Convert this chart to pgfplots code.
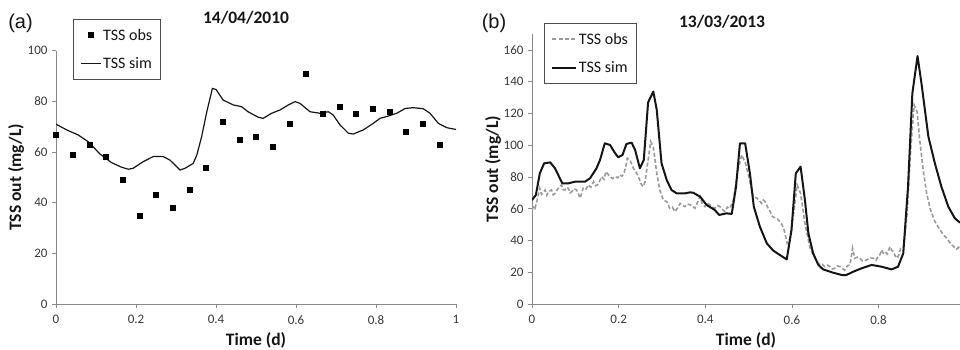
\documentclass[border=0pt]{standalone}
\usepackage{pgfplots}
\pgfplotsset{compat=1.18}
\usepackage{fontspec}
\setmainfont{Carlito}
\newfontfamily\arialfont{Liberation Sans}
\definecolor{axgray}{HTML}{8A8A8A}
\definecolor{ticktxt}{HTML}{383838}
\definecolor{obsgray}{HTML}{9A9A9A}
\definecolor{simblack}{HTML}{151515}
\newcommand{\tickfont}{\fontsize{13}{15}\selectfont}

\pgfplotsset{
  tssaxis/.style={
    scale only axis,
    anchor=south west,
    axis x line*=bottom,
    axis y line*=left,
    axis line style={-, draw=axgray, line width=0.9pt},
    tick align=outside,
    major tick length=4pt,
    tick style={draw=axgray, line width=0.8pt},
    xticklabel={\tickfont\pgfmathprintnumber[assume math mode=true,fixed]{\tick}},
    yticklabel={\tickfont\pgfmathprintnumber[assume math mode=true,fixed]{\tick}},
    tick label style={text=ticktxt},
    xticklabel style={yshift=-4pt},
    yticklabel style={xshift=-1pt},
    xlabel={Time (d)},
    ylabel={TSS out (mg/L)},
    label style={font=\bfseries\fontsize{17.5}{20}\selectfont, text=simblack},
    xlabel style={at={(rel axis cs:0.5,0)}, anchor=center, yshift=-36pt},
    title style={font=\bfseries\fontsize{17.5}{21}\selectfont, text=simblack, anchor=center},
    legend cell align=left,
    legend style={draw=black!70, line width=0.8pt, fill=white,
      inner xsep=7pt, inner ysep=8pt, row sep=13pt,
      nodes={inner sep=1.5pt, font=\fontsize{16}{18}\selectfont, text=simblack}},
  }
}

\pgfplotstableread{
x y
0.0000 67
0.0417 59
0.0833 63
0.1250 58
0.1667 49
0.2083 35
0.2500 43
0.2917 38
0.3333 45
0.3750 54
0.4167 72
0.4583 65
0.5000 66
0.5417 62
0.5833 71
0.6250 91
0.6667 75
0.7083 78
0.7500 75
0.7917 77
0.8333 76
0.8750 68
0.9167 71
0.9583 63
}\obsA

\pgfplotstableread{
x y
0.000 71.0
0.027 68.7
0.056 66.7
0.081 64.0
0.110 59.2
0.139 55.8
0.164 54.0
0.181 53.2
0.193 53.6
0.218 56.2
0.243 58.2
0.268 58.2
0.285 56.8
0.310 52.9
0.323 53.6
0.343 55.5
0.352 58.8
0.364 66.0
0.377 75.9
0.391 85.1
0.400 84.7
0.418 80.5
0.443 78.6
0.464 77.9
0.480 75.9
0.506 73.7
0.518 73.3
0.539 75.3
0.560 76.6
0.581 78.6
0.598 79.9
0.610 79.2
0.635 75.9
0.660 75.3
0.681 75.9
0.693 74.6
0.710 70.7
0.731 67.4
0.743 67.1
0.768 68.7
0.793 71.3
0.810 73.3
0.831 74.2
0.852 75.3
0.873 77.2
0.893 77.5
0.918 77.1
0.935 75.3
0.956 71.3
0.977 69.6
1.000 68.9
}\simA

\pgfplotstableread{
x y
0.000 59.2
0.004 61.5
0.007 60.3
0.012 65.5
0.018 72.9
0.022 69.0
0.025 69.7
0.030 71.8
0.034 68.5
0.038 70.8
0.045 71.8
0.049 68.8
0.053 69.7
0.057 71.5
0.061 72.9
0.068 75.0
0.072 72.0
0.076 71.8
0.080 73.5
0.084 72.9
0.088 70.0
0.092 70.8
0.097 72.5
0.103 71.8
0.107 69.5
0.111 66.6
0.118 72.9
0.124 72.0
0.130 75.0
0.136 73.5
0.142 77.0
0.147 74.5
0.151 75.0
0.156 77.5
0.161 80.2
0.166 78.5
0.171 83.4
0.176 81.5
0.180 80.2
0.186 79.0
0.192 80.2
0.198 79.5
0.203 81.3
0.208 80.5
0.212 82.3
0.216 86.0
0.220 91.8
0.226 90.7
0.234 85.5
0.242 82.3
0.248 78.5
0.253 75.0
0.257 74.0
0.261 77.0
0.268 90.7
0.274 102.3
0.280 99.1
0.288 82.3
0.295 71.8
0.303 65.5
0.311 64.5
0.318 60.3
0.324 61.0
0.330 58.2
0.336 60.5
0.342 63.4
0.348 62.0
0.353 61.3
0.359 63.0
0.365 62.4
0.371 61.5
0.376 60.3
0.382 64.0
0.388 67.6
0.393 63.0
0.399 61.3
0.405 63.5
0.411 62.4
0.417 61.0
0.422 60.3
0.428 62.0
0.434 61.3
0.440 59.5
0.445 58.2
0.451 61.0
0.457 60.3
0.465 65.5
0.474 82.3
0.484 93.9
0.493 88.6
0.502 78.1
0.511 67.6
0.520 66.6
0.525 65.0
0.530 63.4
0.534 65.5
0.538 64.5
0.545 60.3
0.550 58.0
0.555 55.0
0.560 54.5
0.565 54.0
0.572 51.9
0.578 49.5
0.582 46.6
0.589 38.2
0.595 40.3
0.605 59.2
0.612 75.0
0.620 69.7
0.630 50.8
0.642 35.1
0.653 28.8
0.659 26.0
0.665 24.6
0.670 25.0
0.676 23.5
0.682 24.5
0.688 23.5
0.693 22.0
0.699 22.5
0.705 24.0
0.711 23.5
0.716 22.5
0.722 21.4
0.728 24.0
0.734 24.6
0.740 35.1
0.745 28.8
0.751 29.5
0.757 28.8
0.763 27.0
0.772 27.7
0.780 29.0
0.788 28.8
0.794 27.5
0.799 29.8
0.803 31.0
0.807 34.0
0.811 32.0
0.815 33.0
0.820 31.5
0.826 36.1
0.830 34.0
0.834 33.0
0.838 30.5
0.843 28.8
0.847 31.0
0.851 35.1
0.858 36.1
0.866 57.1
0.874 97.0
0.882 125.4
0.889 121.2
0.895 103.3
0.903 84.4
0.911 69.7
0.920 59.2
0.930 51.9
0.942 46.6
0.950 43.5
0.957 41.5
0.965 38.5
0.972 36.5
0.980 34.5
0.988 36.5
}\obsB

\pgfplotstableread{
x y
0.000 65.5
0.009 68.7
0.018 82.3
0.028 88.6
0.042 89.2
0.053 85.5
0.070 76.0
0.084 76.0
0.099 77.0
0.122 77.0
0.134 79.2
0.149 85.5
0.157 90.7
0.168 101.2
0.180 100.2
0.192 94.9
0.199 92.4
0.209 93.9
0.218 100.8
0.230 101.6
0.238 97.0
0.249 85.5
0.258 90.7
0.268 127.0
0.280 133.8
0.288 122.2
0.299 88.6
0.311 78.1
0.322 71.8
0.334 69.7
0.353 69.7
0.365 70.3
0.372 70.1
0.388 67.6
0.403 62.4
0.422 59.2
0.432 56.1
0.449 57.1
0.461 56.7
0.471 73.9
0.480 101.2
0.492 101.2
0.503 82.3
0.512 61.3
0.526 48.7
0.542 38.2
0.557 33.6
0.572 30.9
0.588 28.1
0.599 46.6
0.609 82.3
0.620 86.5
0.630 65.5
0.638 44.5
0.649 31.9
0.661 24.6
0.672 21.8
0.695 19.7
0.718 18.1
0.726 18.3
0.742 20.4
0.761 22.5
0.784 24.6
0.807 23.5
0.830 21.8
0.845 23.5
0.857 31.9
0.868 73.9
0.878 132.7
0.890 156.2
0.899 139.0
0.915 105.4
0.930 88.6
0.945 73.9
0.961 61.3
0.976 54.0
0.988 51.2
}\simB

\begin{document}
\begin{tikzpicture}
\path[use as bounding box] (0,0) rectangle (960pt,350pt);

% Panel (a)
\begin{axis}[tssaxis,
  at={(56pt,46pt)}, width=400pt, height=253.3pt,
  xmin=0, xmax=1, ymin=0, ymax=100,
  xtick={0,0.2,0.4,0.6,0.8,1},
  ytick={0,20,40,60,80,100},
  ylabel style={at={(rel axis cs:0,0.5)}, anchor=center, yshift=40pt},
  title={14/04/2010},
  title style={at={(rel axis cs:0.475,1.108)}},
  legend image code/.code={\draw[mark repeat=2,mark phase=2,#1] plot coordinates {(0pt,0pt) (10pt,0pt) (20pt,0pt)};},
  legend style={at={(rel axis cs:0.0425,1.125)}, anchor=north west},
]
\addplot[only marks, mark=square*, mark size=2.5pt, color=black] table {\obsA};
\addlegendentry{TSS obs}
\addplot[simblack, line width=1.2pt, no marks] table {\simA};
\addlegendentry{TSS sim}
\end{axis}

% Panel (b)
\begin{axis}[tssaxis,
  at={(532pt,46pt)}, width=428pt, height=269.9pt,
  xmin=0, xmax=0.988, ymin=0, ymax=170,
  xtick={0,0.2,0.4,0.6,0.8},
  ytick={0,20,40,60,80,100,120,140,160},
  ylabel style={at={(rel axis cs:0,0.5)}, anchor=center, yshift=39pt},
  title={13/03/2013},
  title style={at={(rel axis cs:0.444,1.022)}},
  legend image code/.code={\draw[#1] (0pt,0pt) -- (24pt,0pt);},
  legend style={at={(rel axis cs:0.028,1.041)}, anchor=north west},
]
\addplot[obsgray, line width=1.6pt, dash pattern=on 4pt off 2.2pt, no marks] table {\obsB};
\addlegendentry{TSS obs}
\addplot[simblack, line width=2pt, no marks, line join=round] table {\simB};
\addlegendentry{TSS sim}
\end{axis}

\node[font=\arialfont\fontsize{20}{24}\selectfont, text=simblack, anchor=center] at (20.5pt,327pt) {(a)};
\node[font=\arialfont\fontsize{20}{24}\selectfont, text=simblack, anchor=center] at (494pt,327pt) {(b)};
\end{tikzpicture}
\end{document}
